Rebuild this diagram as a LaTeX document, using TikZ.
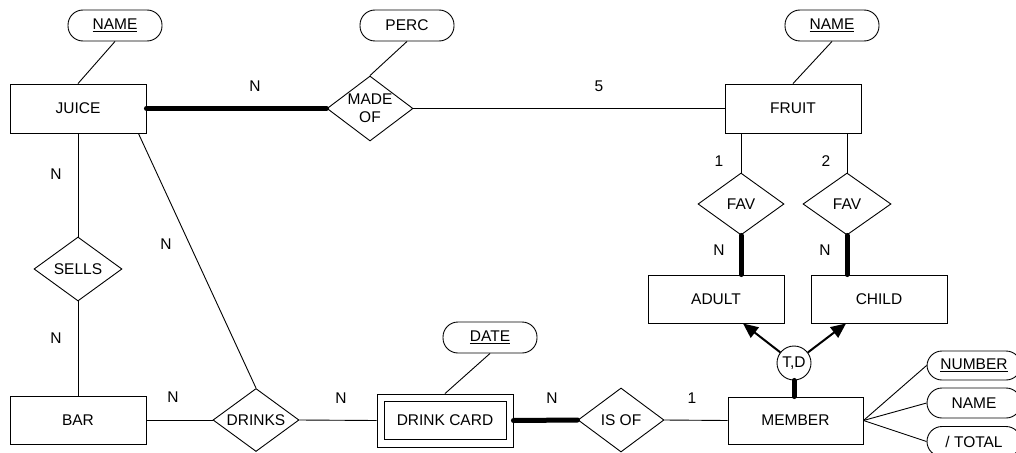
\documentclass[tikz,border=0pt]{standalone}
\usepackage{fontspec}
\setmainfont{Liberation Sans}
\usetikzlibrary{shapes.geometric,arrows.meta}
\begin{document}
\begin{tikzpicture}[x=1pt,y=-1pt,
 every node/.style={font=\fontsize{15.5}{18}\selectfont, inner sep=0pt},
 ent/.style={draw, line width=0.9pt, minimum width=136pt, minimum height=48pt},
 rel/.style={draw, diamond, line width=0.9pt, minimum width=86pt, minimum height=64pt},
 attr/.style={draw, line width=0.9pt, rounded corners=15pt, minimum width=94pt, minimum height=31pt},
 ln/.style={line width=0.9pt},
 thk/.style={line width=5pt, line cap=round},
 arr/.style={line width=2pt, -{Triangle[length=15pt,width=13pt]}}
]
\useasboundingbox (0,0) rectangle (1016,452);

% entities
\node[ent, minimum height=49pt] (juice) at (78,108.5) {JUICE};
\node[ent, minimum height=49pt] (fruit) at (793,108.5) {FRUIT};
\node[ent] (adult) at (716,299) {ADULT};
\node[ent] (child) at (879,299) {CHILD};
\node[ent, minimum width=135pt, minimum height=47pt] (member) at (795.5,420.5) {MEMBER};
\node[ent] (bar) at (78,420) {BAR};
\node[ent, minimum height=53pt] (dc) at (445,420.5) {};
\node[draw, line width=0.9pt, minimum width=122pt, minimum height=38pt] (dcin) at (445,420) {DRINK CARD};

% relationships
\node[rel, minimum height=65pt, label={[align=center]center:{MADE\\OF}}] (madeof) at (370,108.5) {};
\node[rel, minimum height=62pt, label={center:FAV}] (fav1) at (741,204) {};
\node[rel, minimum width=88pt, minimum height=62pt, label={center:FAV}] (fav2) at (847,204) {};
\node[rel, minimum width=88pt, label={center:SELLS}] (sells) at (78,269) {};
\node[rel, minimum height=63pt, label={center:DRINKS}] (drinks) at (256,420) {};
\node[rel, label={center:IS OF}] (isof) at (621,420) {};

% attributes
\node[attr] (jname) at (115,25.5) {\underline{NAME}};
\node[attr] (perc) at (407,25.5) {PERC};
\node[attr] (fname) at (832,25.5) {\underline{NAME}};
\node[attr] (date) at (490,337.5) {\underline{DATE}};
\node[attr, minimum height=29pt] (number) at (974,365.5) {\underline{NUMBER}};
\node[attr, minimum height=30pt] (mname) at (974,403) {NAME};
\node[attr, minimum height=30pt] (total) at (974,441.5) {/ TOTAL};

% T,D circle
\node[draw, circle, line width=0.9pt, minimum size=34pt] (td) at (794,363) {T,D};

% connectors
\draw[ln] (jname.south) -- (juice.north);
\draw[ln] (perc.south) -- (madeof.north);
\draw[ln] (fname.south) -- (fruit.north);
\draw[ln] (date.south) -- (dc.north);
\draw[thk] (juice.east) -- (madeof.west);
\draw[ln] (madeof.east) -- (fruit.west);
\draw[ln] (fav1.north |- fruit.south) -- (fav1.north);
\draw[ln] (fav2.north |- fruit.south) -- (fav2.north);
\draw[thk] (fav1.south) -- (fav1.south |- adult.north);
\draw[thk] (fav2.south) -- (fav2.south |- child.north);
\draw[ln] (juice.south) -- (sells.north);
\draw[ln] (sells.south) -- (bar.north);
\draw[ln] (bar.east) -- (drinks.west);
\draw[ln] (drinks.east) -- (dc.west);
\coordinate (jd) at ([xshift=-8pt]juice.south east);
\draw[ln] (jd) -- (drinks.north);
\draw[thk] (dc.east) -- (isof.west);
\draw[ln] (isof.east) -- (member.west);
\coordinate (ta) at ([xshift=27pt]adult.south);
\coordinate (tc) at ([xshift=-33pt]child.south);
\draw[arr] (td) -- (ta);
\draw[arr] (td) -- (tc);
\draw[thk] (td.south) -- (td.south |- member.north);
\draw[ln] (member.east) -- (number.west);
\draw[ln] (member.east) -- (mname.west);
\draw[ln] (member.east) -- (total.west);

% cardinalities
\node (c1) at (255,86) {N};
\node (c2) at (599,86) {5};
\node (c3) at (719,161) {1};
\node (c4) at (826,161) {2};
\node (c5) at (719,250) {N};
\node (c6) at (825,250) {N};
\node (c7) at (56,174) {N};
\node (c8) at (166,244) {N};
\node (c9) at (56,338) {N};
\node (c10) at (173,397) {N};
\node (c11) at (341,398) {N};
\node (c12) at (552,398) {N};
\node (c13) at (692,398) {1};
\end{tikzpicture}
\end{document}
